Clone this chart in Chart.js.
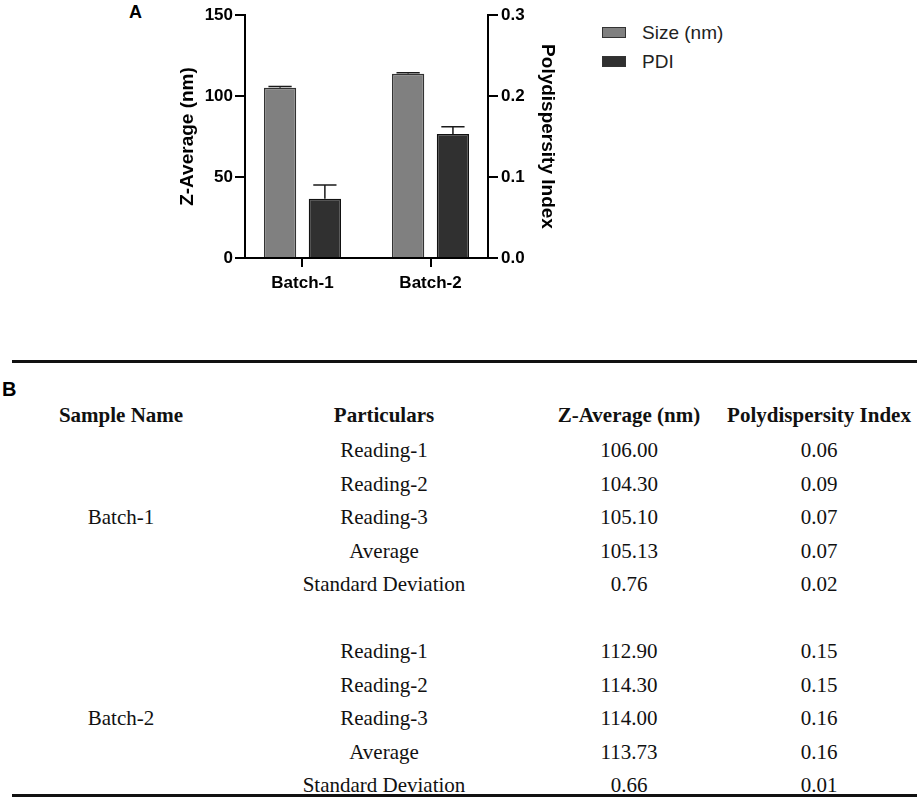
<!DOCTYPE html>
<html>
<head>
<meta charset="utf-8">
<script src="https://cdn.jsdelivr.net/npm/chart.js@4.4.1/dist/chart.umd.min.js"></script>
<style>
  body { margin: 0; background: #fff; width: 920px; height: 801px; position: relative; overflow: hidden; }
  .lbl { position: absolute; font-family: "Liberation Sans", Arial, sans-serif; font-weight: bold; line-height: 1; color: #000; }
  #chartBox { position: absolute; left: 0; top: 0; width: 600px; height: 300px; }
  .leg { position: absolute; font-family: "Liberation Sans", Arial, sans-serif; font-size: 19px; color: #222; line-height: 20px; }
  .leg span { display: inline-block; width: 22px; height: 9px; border: 1px solid #333; vertical-align: middle; margin-right: 16px; position: relative; top: -1px; }
  .rule { position: absolute; left: 12px; width: 905px; height: 3px; background: #111; }
  .cell { position: absolute; font-family: "Liberation Serif", "Times New Roman", serif; font-size: 21px; color: #111; text-align: center; height: 30px; line-height: 30px; white-space: nowrap; }
  .head { font-weight: bold; }
</style>
</head>
<body>
<div class="lbl" style="left:129px; top:3px; font-size:18px;">A</div>
<div id="chartBox"><canvas id="myChart"></canvas></div>
<div class="leg" style="left:602px; top:23px;"><span style="background:#808080"></span>Size (nm)</div>
<div class="leg" style="left:602px; top:52px;"><span style="background:#303030"></span>PDI</div>

<div class="rule" style="top:360px;"></div>
<div class="lbl" style="left:2px; top:379px; font-size:20px;">B</div>
<div id="table"></div>
<div class="rule" style="top:794px;"></div>

<script>
// bar chart data
const batches = ['Batch-1', 'Batch-2'];
const sizeMean = [105.13, 113.73];
const sizeSD = [0.76, 0.66];
const pdiMean = [0.073, 0.153];
const pdiSD = [0.017, 0.009];

// table data
const tableHeads = ['Sample Name', 'Particulars', 'Z-Average (nm)', 'Polydispersity Index'];
const particulars = ['Reading-1', 'Reading-2', 'Reading-3', 'Average', 'Standard Deviation'];
const zAvgB1 = ['106.00', '104.30', '105.10', '105.13', '0.76'];
const pdiB1 = ['0.06', '0.09', '0.07', '0.07', '0.02'];
const zAvgB2 = ['112.90', '114.30', '114.00', '113.73', '0.66'];
const pdiB2 = ['0.15', '0.15', '0.16', '0.16', '0.01'];

// error bars (upper half only) drawn from the chart scales
const errorBars = {
  id: 'errorBars',
  afterDatasetsDraw(chart) {
    const ctx = chart.ctx;
    chart.data.datasets.forEach((ds, i) => {
      const meta = chart.getDatasetMeta(i);
      const scale = chart.scales[ds.yAxisID];
      meta.data.forEach((bar, j) => {
        const top = scale.getPixelForValue(ds.data[j] + ds.errors[j]);
        const cap = bar.width * 0.36;
        ctx.save();
        ctx.strokeStyle = '#1a1a1a';
        ctx.lineWidth = 1.5;
        ctx.beginPath();
        ctx.moveTo(bar.x, bar.y);
        ctx.lineTo(bar.x, top);
        ctx.moveTo(bar.x - cap, top);
        ctx.lineTo(bar.x + cap, top);
        ctx.stroke();
        ctx.restore();
      });
    });
  }
};

// categories sit a little closer to the y axes than a plain offset scale puts them
const spreadCategories = {
  id: 'spreadCategories',
  afterLayout(chart) {
    const s = chart.scales.x;
    const pad = s.width * 0.027;
    s._startPixel = s.left - pad;
    s._length = s.width + 2 * pad;
  }
};

const tickFont = { family: 'Liberation Sans', size: 17, weight: 'bold' };
const titleFont = { family: 'Liberation Sans', size: 19, weight: 'bold' };

const config = {
  type: 'bar',
  data: {
    labels: batches,
    datasets: [
      {
        label: 'Size (nm)',
        data: sizeMean,
        errors: sizeSD,
        yAxisID: 'y',
        backgroundColor: '#808080',
        borderColor: '#333',
        borderWidth: 1.5,
        categoryPercentage: 0.70,
        barPercentage: 0.72
      },
      {
        label: 'PDI',
        data: pdiMean,
        errors: pdiSD,
        yAxisID: 'y2',
        backgroundColor: '#303030',
        borderColor: '#111',
        borderWidth: 1.5,
        categoryPercentage: 0.70,
        barPercentage: 0.72
      }
    ]
  },
  options: {
    responsive: true,
    maintainAspectRatio: false,
    animation: false,
    layout: { padding: { left: 176, top: 15, right: 41, bottom: 2 } },
    plugins: { legend: { display: false }, tooltip: { enabled: false } },
    scales: {
      x: {
        grid: { offset: false, drawOnChartArea: false, tickLength: 9, color: '#000', lineWidth: 2 },
        border: { color: '#000', width: 2 },
        ticks: { color: '#000', font: tickFont, padding: 6 },
        afterFit: (s) => { s.height = 40; }
      },
      y: {
        position: 'left',
        min: 0, max: 150,
        ticks: { stepSize: 50, color: '#000', font: tickFont, padding: 2 },
        grid: { drawOnChartArea: false, tickLength: 10, color: '#000', lineWidth: 2 },
        border: { color: '#000', width: 2 },
        title: { display: true, text: 'Z-Average (nm)', color: '#000', font: titleFont, padding: 0 },
        afterFit: (s) => { s.width = 69; }
      },
      y2: {
        position: 'right',
        min: 0, max: 0.3,
        ticks: { stepSize: 0.1, color: '#000', font: tickFont, padding: 3, callback: (v) => v.toFixed(1) },
        grid: { drawOnChartArea: false, tickLength: 10, color: '#000', lineWidth: 2 },
        border: { color: '#000', width: 2 },
        title: { display: true, text: 'Polydispersity Index', color: '#000', font: titleFont, padding: 0 },
        afterFit: (s) => { s.width = 71; }
      }
    }
  },
  plugins: [spreadCategories, errorBars]
};

const myChart = new Chart(document.getElementById('myChart'), config);

// table B
const colCenters = [121, 384, 629, 819];
const colWidths = [240, 240, 200, 200];
const table = document.getElementById('table');
function cell(text, col, cy, bold) {
  const d = document.createElement('div');
  d.className = 'cell' + (bold ? ' head' : '');
  d.textContent = text;
  d.style.left = (colCenters[col] - colWidths[col] / 2) + 'px';
  d.style.width = colWidths[col] + 'px';
  d.style.top = (cy - 15) + 'px';
  table.appendChild(d);
}
tableHeads.forEach((h, c) => cell(h, c, 415, true));
const rowH = 33.6;
[[450, 'Batch-1', zAvgB1, pdiB1], [651, 'Batch-2', zAvgB2, pdiB2]].forEach(([y0, name, z, p]) => {
  cell(name, 0, y0 + 2 * rowH, false);
  particulars.forEach((t, r) => {
    const cy = y0 + r * rowH;
    cell(t, 1, cy, false);
    cell(z[r], 2, cy, false);
    cell(p[r], 3, cy, false);
  });
});
</script>
</body>
</html>
